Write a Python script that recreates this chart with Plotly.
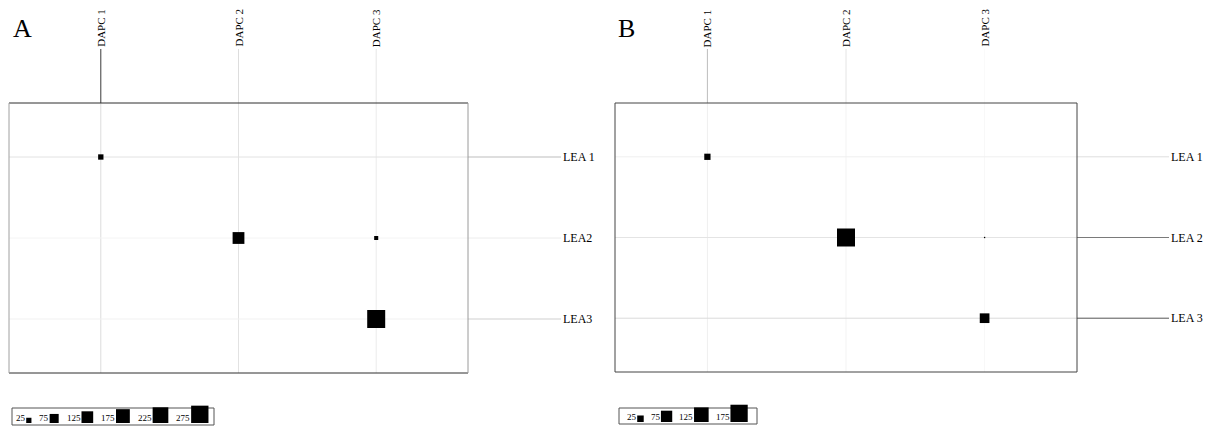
import numpy as np
import plotly.graph_objects as go

W, H = 1213, 426

# cluster labels
dapc_labels = ["DAPC 1", "DAPC 2", "DAPC 3"]
lea_labels_a = ["LEA 1", "LEA2", "LEA3"]
lea_labels_b = ["LEA 1", "LEA 2", "LEA 3"]

# cross-tabulated counts: rows = LEA clusters, columns = DAPC clusters
counts_a = [[26, 0, 0],
            [0, 127, 15],
            [0, 0, 296]]
counts_b = [[23, 0, 0],
            [0, 190, 1],
            [0, 0, 55]]

# legend key values
legend_a = [25, 75, 125, 175, 225, 275]
legend_b = [25, 75, 125, 175]

FONT = "Liberation Serif"
MAX_PX = 18.0  # side of the largest square
CLEAR = "rgba(0,0,0,0)"

# per-panel layout (pixels) and line styles
panels = [
    dict(name="A", counts=counts_a, rows=lea_labels_a, legend=legend_a,
         box=(9, 103, 468, 373), label_x=561, letter=(11, 12),
         leg_box=(12, 408, 214, 425), leg_x0=15, leg_gap=7,
         col_ext=["#3a3a3a", "#dddddd", "#e6e6e6"],
         col_int=["#dcdcdc", "#e2e2e2", "#ebebeb"],
         row_ext=["#bdbdbd", "#ececec", "#cfcfcf"],
         row_int=["#e2e2e2", "#f4f4f4", "#f1f1f1"],
         edges=dict(top="#2e2e2e", bottom="#2e2e2e", left="#a0a0a0", right="#9a9a9a"),
         xa="x", ya="y"),
    dict(name="B", counts=counts_b, rows=lea_labels_b, legend=legend_b,
         box=(615, 103, 1077, 372), label_x=1169, letter=(616, 12),
         leg_box=(619, 408, 757, 424), leg_x0=626, leg_gap=6,
         col_ext=["#bcbcbc", "#e4e4e4", "#fafafa"],
         col_int=["#efefef", "#f3f3f3", "#f8f8f8"],
         row_ext=["#dedede", "#7a7a7a", "#555555"],
         row_int=["#efefef", "#e4e4e4", "#dadada"],
         edges=dict(top="#444444", bottom="#444444", left="#444444", right="#444444"),
         xa="x2", ya="y2"),
]


def px_x(p):
    return p / W


def px_y(p):
    return 1 - p / H


fig = go.Figure()
shapes, annotations = [], []
layout_axes = {}

for k, p in enumerate(panels):
    x0, y0, x1, y1 = p["box"]
    counts = np.array(p["counts"], dtype=float)
    nrow, ncol = counts.shape
    vmax = counts.max()
    sizeref = 2.0 * vmax / MAX_PX ** 2

    sfx = "" if k == 0 else "2"
    layout_axes["xaxis" + sfx] = dict(domain=[px_x(x0), px_x(x1)], range=[1 / 3, ncol + 2 / 3],
                                      visible=False, fixedrange=True)
    layout_axes["yaxis" + sfx] = dict(domain=[px_y(y1), px_y(y0)], range=[nrow + 2 / 3, 1 / 3],
                                      visible=False, fixedrange=True)

    # grid lines inside the frame and leaders to the labels
    for j in range(ncol):
        shapes.append(dict(type="line", xref=p["xa"], yref="paper", x0=j + 1, x1=j + 1,
                           y0=px_y(y1), y1=px_y(y0), line=dict(color=p["col_int"][j], width=1),
                           layer="below"))
        shapes.append(dict(type="line", xref=p["xa"], yref="paper", x0=j + 1, x1=j + 1,
                           y0=px_y(y0), y1=px_y(49), line=dict(color=p["col_ext"][j], width=1),
                           layer="below"))
        annotations.append(dict(xref=p["xa"], yref="paper", x=j + 1, y=px_y(49),
                                text=dapc_labels[j], textangle=-90, showarrow=False,
                                xanchor="center", yanchor="bottom",
                                font=dict(family=FONT, size=11, color="#000")))
    for i in range(nrow):
        shapes.append(dict(type="line", xref="paper", yref=p["ya"], x0=px_x(x0), x1=px_x(x1),
                           y0=i + 1, y1=i + 1, line=dict(color=p["row_int"][i], width=1),
                           layer="below"))
        shapes.append(dict(type="line", xref="paper", yref=p["ya"], x0=px_x(x1), x1=px_x(p["label_x"]),
                           y0=i + 1, y1=i + 1, line=dict(color=p["row_ext"][i], width=1),
                           layer="below"))
        annotations.append(dict(xref="paper", yref=p["ya"], x=px_x(p["label_x"]), y=i + 1,
                                text=p["rows"][i], showarrow=False, xanchor="left", yanchor="middle",
                                font=dict(family=FONT, size=12, color="#000")))

    # frame
    e = p["edges"]
    for side, (ax0, ay0, ax1, ay1) in dict(top=(x0, y0, x1, y0), bottom=(x0, y1, x1, y1),
                                            left=(x0, y0, x0, y1), right=(x1, y0, x1, y1)).items():
        shapes.append(dict(type="line", xref="paper", yref="paper", x0=px_x(ax0), x1=px_x(ax1),
                           y0=px_y(ay0), y1=px_y(ay1), line=dict(color=e[side], width=1)))

    # squares for the table cells
    ii, jj = np.nonzero(counts)
    fig.add_trace(go.Scatter(
        x=jj + 1, y=ii + 1, mode="markers", xaxis=p["xa"], yaxis=p["ya"],
        marker=dict(symbol="square", color="black", opacity=1, size=counts[ii, jj],
                    sizemode="area", sizeref=sizeref, line=dict(width=0)),
        hoverinfo="skip", showlegend=False))

    # panel letter
    lx, ly = p["letter"]
    annotations.append(dict(xref="paper", yref="paper", x=px_x(lx), y=px_y(ly), text=p["name"],
                            showarrow=False, xanchor="left", yanchor="top",
                            font=dict(family=FONT, size=26, color="#000")))

    # size key along the bottom
    bx0, by0, bx1, by1 = p["leg_box"]
    shapes.append(dict(type="rect", xref="paper", yref="paper", x0=px_x(bx0), x1=px_x(bx1),
                       y0=px_y(by0), y1=px_y(by1),
                       line=dict(color="#555555", width=1), fillcolor=CLEAR, layer="below"))
    base = by1 - 2
    cur = p["leg_x0"]
    lx_list, ly_list = [], []
    for v in p["legend"]:
        side = MAX_PX * np.sqrt(v / vmax)
        txt = str(v)
        tw = 4.6 * len(txt) + 1
        annotations.append(dict(xref="x3", yref="y3", x=cur, y=base + 1, text=txt, showarrow=False,
                                xanchor="left", yanchor="bottom",
                                font=dict(family=FONT, size=9, color="#000"),
                                borderpad=0))
        sx = cur + tw + 1 + side / 2
        lx_list.append(sx)
        ly_list.append(base - side / 2)
        cur = sx + side / 2 + p["leg_gap"]
    fig.add_trace(go.Scatter(
        x=lx_list, y=ly_list, mode="markers", xaxis="x3", yaxis="y3",
        marker=dict(symbol="square", color="black", opacity=1, size=p["legend"],
                    sizemode="area", sizeref=sizeref, line=dict(width=0)),
        hoverinfo="skip", showlegend=False))

# pixel-space overlay used for the size keys
layout_axes["xaxis3"] = dict(domain=[0, 1], range=[0, W], visible=False, fixedrange=True)
layout_axes["yaxis3"] = dict(domain=[0, 1], range=[H, 0], visible=False, fixedrange=True)

fig.update_layout(
    width=W, height=H, margin=dict(l=0, r=0, t=0, b=0),
    paper_bgcolor="white", plot_bgcolor=CLEAR,
    shapes=shapes, annotations=annotations, showlegend=False,
    **layout_axes,
)

fig.write_html("out.html", config={"displayModeBar": False})
